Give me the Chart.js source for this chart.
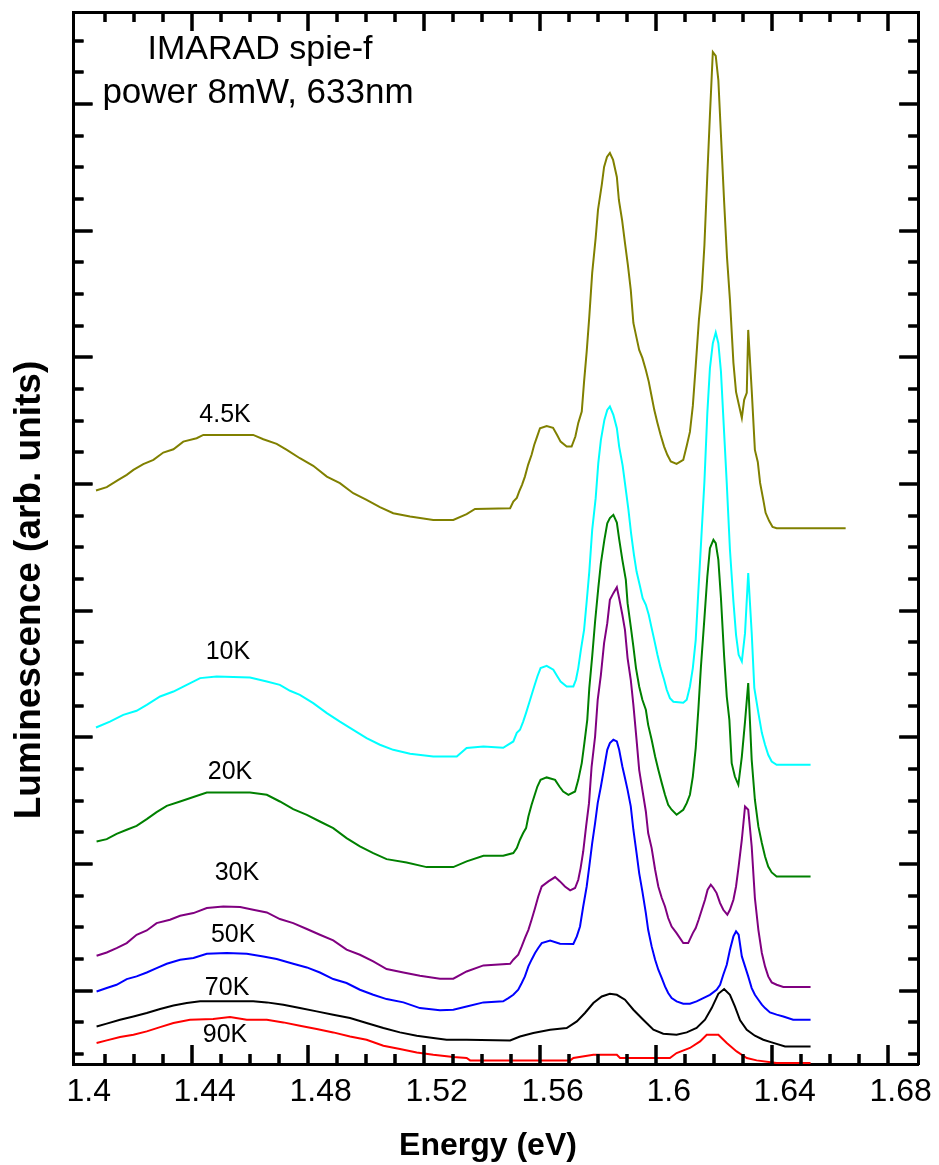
<!DOCTYPE html>
<html>
<head>
<meta charset="utf-8">
<script src="https://cdn.jsdelivr.net/npm/chart.js@4.4.1/dist/chart.umd.min.js"></script>
<style>
  html, body { margin: 0; padding: 0; background: #fff; }
  canvas { display: block; }
</style>
</head>
<body>
<canvas id="plChart" width="939" height="1165"></canvas>
<script>
// photoluminescence spectra, energy in eV, intensity in arb. units

const xTickValues = [1.4, 1.44, 1.48, 1.52, 1.56, 1.6, 1.64, 1.68];
const xTickLabels = ['1.4', '1.44', '1.48', '1.52', '1.56', '1.6', '1.64', '1.68'];

// 4.5K
const e45 = [
  1.4070, 1.4107, 1.4147, 1.4176, 1.4199, 1.4233, 1.4268, 1.4302, 1.4337, 1.4371,
  1.4417, 1.4440, 1.4521, 1.4612, 1.4647, 1.4693, 1.4728, 1.4773, 1.4819, 1.4866,
  1.4911, 1.4957, 1.5003, 1.5049, 1.5095, 1.5153, 1.5233, 1.5302, 1.5348, 1.5377,
  1.5498, 1.5509, 1.5521, 1.5529, 1.5539, 1.5549, 1.5560, 1.5572, 1.5581, 1.5591,
  1.5601, 1.5624, 1.5646, 1.5660, 1.5672, 1.5693, 1.5710, 1.5723, 1.5733, 1.5745,
  1.5753, 1.5762, 1.5771, 1.5781, 1.5793, 1.5801, 1.5814, 1.5822, 1.5832, 1.5842,
  1.5853, 1.5866, 1.5873, 1.5884, 1.5894, 1.5904, 1.5914, 1.5923, 1.5934, 1.5943,
  1.5954, 1.5966, 1.5976, 1.5986, 1.5995, 1.6006, 1.6017, 1.6029, 1.6040, 1.6052,
  1.6072, 1.6095, 1.6107, 1.6118, 1.6128, 1.6138, 1.6149, 1.6159, 1.6168, 1.6178,
  1.6187, 1.6197, 1.6207, 1.6216, 1.6225, 1.6236, 1.6246, 1.6256, 1.6268, 1.6277,
  1.6287, 1.6297, 1.6305, 1.6314, 1.6319, 1.6331, 1.6342, 1.6352, 1.6360, 1.6371,
  1.6379, 1.6391, 1.6403, 1.6417, 1.6655
];
const i45 = [
  3.949, 3.976, 4.033, 4.073, 4.112, 4.157, 4.191, 4.249, 4.275, 4.335,
  4.362, 4.388, 4.388, 4.388, 4.354, 4.317, 4.270, 4.204, 4.144, 4.059,
  4.007, 3.928, 3.875, 3.818, 3.770, 3.744, 3.717, 3.717, 3.762, 3.804,
  3.810, 3.862, 3.891, 3.941, 3.994, 4.059, 4.152, 4.231, 4.309, 4.375,
  4.441, 4.459, 4.444, 4.388, 4.335, 4.296, 4.296, 4.375, 4.483, 4.572,
  4.809, 5.046, 5.322, 5.667, 5.943, 6.164, 6.362, 6.504, 6.582, 6.614,
  6.559, 6.425, 6.243, 6.085, 5.904, 5.730, 5.533, 5.272, 5.154, 5.059,
  4.996, 4.901, 4.809, 4.691, 4.586, 4.483, 4.388, 4.296, 4.231, 4.178,
  4.159, 4.191, 4.302, 4.412, 4.617, 4.933, 5.296, 5.533, 5.888, 6.440,
  6.914, 7.411, 7.380, 7.190, 6.756, 6.227, 5.785, 5.454, 4.957, 4.728,
  4.625, 4.522, 4.665, 4.720, 5.217, 4.743, 4.270, 4.175, 4.009, 3.875,
  3.773, 3.710, 3.662, 3.652, 3.652
];

// 10K
const e10 = [
  1.4070, 1.4118, 1.4164, 1.4210, 1.4245, 1.4291, 1.4337, 1.4383, 1.4429, 1.4486,
  1.4601, 1.4659, 1.4704, 1.4739, 1.4773, 1.4819, 1.4866, 1.4911, 1.4957, 1.5003,
  1.5049, 1.5095, 1.5153, 1.5233, 1.5314, 1.5348, 1.5406, 1.5474, 1.5509, 1.5521,
  1.5532, 1.5543, 1.5553, 1.5567, 1.5581, 1.5592, 1.5603, 1.5624, 1.5647, 1.5661,
  1.5672, 1.5693, 1.5716, 1.5725, 1.5733, 1.5742, 1.5753, 1.5762, 1.5771, 1.5781,
  1.5793, 1.5802, 1.5811, 1.5823, 1.5833, 1.5842, 1.5854, 1.5866, 1.5874, 1.5886,
  1.5897, 1.5906, 1.5915, 1.5925, 1.5934, 1.5946, 1.5955, 1.5966, 1.5976, 1.5986,
  1.5995, 1.6006, 1.6017, 1.6029, 1.6038, 1.6049, 1.6061, 1.6095, 1.6107, 1.6118,
  1.6128, 1.6138, 1.6147, 1.6156, 1.6168, 1.6178, 1.6187, 1.6197, 1.6207, 1.6216,
  1.6225, 1.6236, 1.6245, 1.6256, 1.6268, 1.6277, 1.6286, 1.6297, 1.6308, 1.6319,
  1.6331, 1.6340, 1.6354, 1.6366, 1.6377, 1.6388, 1.6400, 1.6417, 1.6534
];
const i10 = [
  2.078, 2.125, 2.178, 2.210, 2.257, 2.323, 2.362, 2.415, 2.468, 2.481,
  2.473, 2.441, 2.415, 2.368, 2.336, 2.271, 2.192, 2.125, 2.060, 1.994,
  1.942, 1.902, 1.871, 1.849, 1.849, 1.916, 1.928, 1.918, 1.968, 2.036,
  2.060, 2.125, 2.194, 2.297, 2.402, 2.481, 2.547, 2.565, 2.534, 2.481,
  2.441, 2.402, 2.402, 2.455, 2.547, 2.691, 2.849, 3.073, 3.309, 3.638,
  3.889, 4.165, 4.349, 4.507, 4.586, 4.612, 4.546, 4.441, 4.296, 4.146,
  3.954, 3.796, 3.612, 3.441, 3.309, 3.191, 3.099, 3.047, 2.968, 2.863,
  2.770, 2.652, 2.547, 2.455, 2.376, 2.310, 2.281, 2.273, 2.297, 2.402,
  2.547, 2.770, 3.152, 3.520, 4.020, 4.560, 4.915, 5.112, 5.196, 5.112,
  4.888, 4.402, 4.007, 3.481, 3.073, 2.810, 2.652, 2.599, 2.823, 3.297,
  2.826, 2.391, 2.194, 2.036, 1.942, 1.863, 1.810, 1.784, 1.784
];

// 20K
const e20 = [
  1.4072, 1.4107, 1.4141, 1.4176, 1.4210, 1.4245, 1.4279, 1.4314, 1.4360, 1.4406,
  1.4452, 1.4601, 1.4659, 1.4704, 1.4750, 1.4797, 1.4842, 1.4888, 1.4934, 1.4980,
  1.5026, 1.5072, 1.5141, 1.5210, 1.5302, 1.5348, 1.5406, 1.5474, 1.5509, 1.5521,
  1.5532, 1.5543, 1.5553, 1.5561, 1.5572, 1.5581, 1.5592, 1.5603, 1.5624, 1.5653,
  1.5668, 1.5681, 1.5699, 1.5722, 1.5733, 1.5745, 1.5754, 1.5764, 1.5771, 1.5781,
  1.5791, 1.5802, 1.5811, 1.5823, 1.5833, 1.5842, 1.5854, 1.5866, 1.5874, 1.5885,
  1.5897, 1.5903, 1.5914, 1.5923, 1.5932, 1.5943, 1.5954, 1.5966, 1.5974, 1.5986,
  1.5998, 1.6009, 1.6021, 1.6032, 1.6043, 1.6055, 1.6072, 1.6095, 1.6107, 1.6118,
  1.6128, 1.6138, 1.6147, 1.6156, 1.6168, 1.6178, 1.6187, 1.6199, 1.6207, 1.6216,
  1.6225, 1.6236, 1.6245, 1.6254, 1.6262, 1.6273, 1.6285, 1.6297, 1.6308, 1.6319,
  1.6331, 1.6342, 1.6354, 1.6366, 1.6377, 1.6388, 1.6400, 1.6417, 1.6534
];
const i20 = [
  1.178, 1.197, 1.239, 1.271, 1.302, 1.355, 1.410, 1.460, 1.494, 1.529,
  1.565, 1.565, 1.547, 1.494, 1.434, 1.389, 1.336, 1.284, 1.205, 1.139,
  1.087, 1.039, 1.013, 0.976, 0.976, 1.021, 1.066, 1.066, 1.087, 1.126,
  1.192, 1.245, 1.284, 1.376, 1.468, 1.534, 1.612, 1.665, 1.684, 1.665,
  1.612, 1.573, 1.547, 1.573, 1.665, 1.797, 1.955, 2.139, 2.389, 2.639,
  2.915, 3.178, 3.376, 3.560, 3.691, 3.731, 3.757, 3.696, 3.565, 3.402,
  3.244, 3.060, 2.875, 2.717, 2.547, 2.402, 2.297, 2.218, 2.099, 1.981,
  1.849, 1.744, 1.639, 1.547, 1.468, 1.429, 1.389, 1.429, 1.481, 1.547,
  1.691, 1.916, 2.218, 2.560, 2.942, 3.270, 3.494, 3.560, 3.534, 3.402,
  3.099, 2.639, 2.323, 2.139, 1.797, 1.691, 1.626, 1.849, 2.125, 2.429,
  1.823, 1.508, 1.297, 1.166, 1.060, 0.981, 0.934, 0.902, 0.902
];

// 30K
const e30 = [
  1.4072, 1.4107, 1.4141, 1.4176, 1.4210, 1.4245, 1.4279, 1.4325, 1.4360, 1.4406,
  1.4452, 1.4509, 1.4567, 1.4612, 1.4659, 1.4704, 1.4750, 1.4797, 1.4842, 1.4888,
  1.4934, 1.4980, 1.5026, 1.5072, 1.5130, 1.5187, 1.5256, 1.5302, 1.5348, 1.5406,
  1.5498, 1.5509, 1.5526, 1.5538, 1.5549, 1.5561, 1.5572, 1.5584, 1.5595, 1.5607,
  1.5630, 1.5653, 1.5670, 1.5687, 1.5705, 1.5722, 1.5733, 1.5741, 1.5750, 1.5760,
  1.5770, 1.5779, 1.5791, 1.5800, 1.5811, 1.5822, 1.5833, 1.5842, 1.5854, 1.5866,
  1.5874, 1.5885, 1.5894, 1.5903, 1.5914, 1.5923, 1.5934, 1.5943, 1.5954, 1.5966,
  1.5974, 1.5986, 1.5998, 1.6009, 1.6021, 1.6032, 1.6043, 1.6055, 1.6072, 1.6095,
  1.6112, 1.6128, 1.6138, 1.6148, 1.6159, 1.6170, 1.6179, 1.6190, 1.6199, 1.6210,
  1.6222, 1.6233, 1.6247, 1.6256, 1.6268, 1.6277, 1.6286, 1.6297, 1.6308, 1.6319,
  1.6331, 1.6342, 1.6354, 1.6366, 1.6377, 1.6388, 1.6400, 1.6417, 1.6440, 1.6534
];
const i30 = [
  0.276, 0.302, 0.337, 0.376, 0.442, 0.476, 0.534, 0.560, 0.592, 0.613,
  0.653, 0.665, 0.661, 0.639, 0.618, 0.566, 0.534, 0.487, 0.442, 0.397,
  0.324, 0.284, 0.231, 0.171, 0.144, 0.118, 0.095, 0.095, 0.152, 0.200,
  0.213, 0.245, 0.284, 0.350, 0.416, 0.481, 0.560, 0.653, 0.744, 0.823,
  0.863, 0.897, 0.863, 0.823, 0.792, 0.811, 0.876, 0.968, 1.099, 1.297,
  1.481, 1.770, 2.007, 2.297, 2.494, 2.744, 2.902, 3.086, 3.139, 3.186,
  3.099, 2.968, 2.849, 2.626, 2.455, 2.257, 1.981, 1.744, 1.586, 1.415,
  1.245, 1.126, 0.955, 0.823, 0.732, 0.665, 0.574, 0.507, 0.455, 0.376,
  0.376, 0.455, 0.495, 0.560, 0.639, 0.718, 0.797, 0.837, 0.811, 0.771,
  0.692, 0.639, 0.600, 0.639, 0.718, 0.823, 0.981, 1.192, 1.455, 1.429,
  1.139, 0.732, 0.481, 0.298, 0.192, 0.113, 0.066, 0.047, 0.029, 0.029
];

// 50K
const e50 = [
  1.4072, 1.4107, 1.4141, 1.4176, 1.4210, 1.4245, 1.4279, 1.4314, 1.4360, 1.4406,
  1.4452, 1.4521, 1.4590, 1.4647, 1.4693, 1.4750, 1.4797, 1.4842, 1.4888, 1.4934,
  1.4980, 1.5026, 1.5072, 1.5130, 1.5187, 1.5256, 1.5302, 1.5348, 1.5406, 1.5474,
  1.5492, 1.5509, 1.5526, 1.5538, 1.5549, 1.5561, 1.5572, 1.5584, 1.5595, 1.5607,
  1.5636, 1.5670, 1.5716, 1.5728, 1.5739, 1.5750, 1.5762, 1.5771, 1.5781, 1.5791,
  1.5800, 1.5811, 1.5823, 1.5833, 1.5842, 1.5854, 1.5866, 1.5874, 1.5885, 1.5894,
  1.5903, 1.5914, 1.5923, 1.5934, 1.5943, 1.5954, 1.5966, 1.5974, 1.5986, 1.5998,
  1.6009, 1.6021, 1.6032, 1.6043, 1.6055, 1.6072, 1.6095, 1.6118, 1.6141, 1.6164,
  1.6187, 1.6210, 1.6222, 1.6233, 1.6245, 1.6256, 1.6268, 1.6277, 1.6286, 1.6297,
  1.6308, 1.6319, 1.6331, 1.6342, 1.6354, 1.6366, 1.6377, 1.6394, 1.6417, 1.6440,
  1.6474, 1.6534
];
const i50 = [
  -0.006, 0.021, 0.047, 0.092, 0.113, 0.144, 0.179, 0.213, 0.245, 0.258,
  0.292, 0.298, 0.292, 0.271, 0.250, 0.213, 0.184, 0.144, 0.092, 0.061,
  0.008, -0.032, -0.066, -0.092, -0.137, -0.155, -0.150, -0.124, -0.092, -0.084,
  -0.058, -0.032, 0.008, 0.061, 0.113, 0.192, 0.245, 0.298, 0.337, 0.376,
  0.397, 0.371, 0.369, 0.429, 0.507, 0.665, 0.823, 0.981, 1.166, 1.324,
  1.481, 1.612, 1.770, 1.902, 1.955, 1.981, 1.968, 1.902, 1.770, 1.679,
  1.586, 1.455, 1.271, 1.087, 0.929, 0.784, 0.613, 0.481, 0.350, 0.245,
  0.166, 0.100, 0.034, -0.018, -0.058, -0.084, -0.103, -0.103, -0.084, -0.058,
  -0.032, 0.008, 0.047, 0.126, 0.205, 0.324, 0.429, 0.468, 0.442, 0.271,
  0.192, 0.113, 0.021, -0.032, -0.071, -0.110, -0.137, -0.171, -0.189, -0.203,
  -0.229, -0.229
];

// 70K
const e70 = [
  1.4072, 1.4107, 1.4153, 1.4199, 1.4245, 1.4291, 1.4337, 1.4383, 1.4429, 1.4612,
  1.4659, 1.4716, 1.4773, 1.4831, 1.4888, 1.4946, 1.5003, 1.5061, 1.5118, 1.5176,
  1.5233, 1.5279, 1.5348, 1.5498, 1.5532, 1.5578, 1.5636, 1.5693, 1.5728, 1.5756,
  1.5785, 1.5814, 1.5842, 1.5866, 1.5894, 1.5923, 1.5957, 1.5992, 1.6026, 1.6072,
  1.6107, 1.6141, 1.6170, 1.6193, 1.6216, 1.6236, 1.6256, 1.6273, 1.6291, 1.6314,
  1.6342, 1.6371, 1.6400, 1.6446, 1.6534
];
const i70 = [
  -0.282, -0.260, -0.229, -0.203, -0.176, -0.144, -0.116, -0.097, -0.084, -0.084,
  -0.092, -0.110, -0.137, -0.163, -0.189, -0.215, -0.255, -0.294, -0.329, -0.355,
  -0.373, -0.387, -0.387, -0.392, -0.361, -0.334, -0.308, -0.294, -0.242, -0.176,
  -0.097, -0.045, -0.024, -0.032, -0.071, -0.150, -0.229, -0.308, -0.339, -0.347,
  -0.329, -0.294, -0.229, -0.137, -0.024, 0.013, -0.032, -0.124, -0.234, -0.308,
  -0.355, -0.387, -0.408, -0.440, -0.440
];

// 90K
const e90 = [
  1.4072, 1.4107, 1.4153, 1.4199, 1.4245, 1.4291, 1.4337, 1.4394, 1.4474, 1.4532,
  1.4590, 1.4659, 1.4716, 1.4773, 1.4831, 1.4888, 1.4946, 1.5003, 1.5061, 1.5118,
  1.5176, 1.5233, 1.5302, 1.5348, 1.5360, 1.5705, 1.5716, 1.5785, 1.5866, 1.5877,
  1.6049, 1.6072, 1.6118, 1.6153, 1.6176, 1.6216, 1.6245, 1.6279, 1.6314, 1.6348,
  1.6417, 1.6534
];
const i90 = [
  -0.413, -0.392, -0.365, -0.347, -0.321, -0.287, -0.255, -0.229, -0.223, -0.208,
  -0.229, -0.229, -0.250, -0.276, -0.302, -0.329, -0.361, -0.387, -0.434, -0.460,
  -0.487, -0.505, -0.523, -0.531, -0.550, -0.550, -0.531, -0.505, -0.505, -0.531,
  -0.531, -0.492, -0.452, -0.400, -0.347, -0.347, -0.413, -0.479, -0.531, -0.550,
  -0.571, -0.571
];

const seriesNames = ['4.5K', '10K', '20K', '30K', '50K', '70K', '90K'];
const seriesX = [e45, e10, e20, e30, e50, e70, e90];
const seriesY = [i45, i10, i20, i30, i50, i70, i90];
const seriesColors = ['#808000', '#00ffff', '#008000', '#800080', '#0000ff', '#000000', '#ff0000'];

// where each temperature label sits (data units)
const labelE = [1.4515, 1.4525, 1.4532, 1.4556, 1.4543, 1.4522, 1.4515];
const labelI = [4.546, 2.676, 1.728, 0.931, 0.442, 0.024, -0.347];

const xMin = 1.39924, xMax = 1.69055;
const yMin = -0.5785, yMax = 7.727;

const FONT = "'Liberation Sans', Arial, sans-serif";

const datasets = seriesNames.map((name, k) => ({
    label: name,
    data: seriesX[k].map((e, j) => ({ x: e, y: seriesY[k][j] })),
    borderColor: seriesColors[k],
    borderWidth: 2,
    pointRadius: 0,
    fill: false,
    tension: 0
}));

// inward tick marks on all four sides
function drawFrameTicks(chart) {
    const { ctx, chartArea: a, scales } = chart;
    const sx = scales.x, sy = scales.y;
    ctx.save();
    ctx.fillStyle = '#000';
    ctx.globalAlpha = 1;
    ctx.globalCompositeOperation = 'source-over';
    for (let k = 141; k <= 168; k++) {
        const px = Math.round(sx.getPixelForValue(k / 100));
        const len = (k % 4 === 0) ? 19 : 10;
        ctx.fillRect(px - 1.5, a.bottom - len, 3, len);
        ctx.fillRect(px - 1.5, a.top, 3, len);
    }
    for (let k = -2; k <= 30; k++) {
        const py = Math.round(sy.getPixelForValue(k / 4));
        const len = (k % 4 === 0) ? 19 : 10;
        ctx.fillRect(a.left, py - 1.5, len, 3);
        ctx.fillRect(a.right - len, py - 1.5, len, 3);
    }
    ctx.restore();
}

const frameDecor = {
    id: 'frameDecor',
    afterDatasetsDraw(chart) {
        drawFrameTicks(chart);
    },
    afterDraw(chart) {
        const { ctx, scales } = chart;
        const sx = scales.x, sy = scales.y;
        drawFrameTicks(chart);
        ctx.save();
        ctx.fillStyle = '#000';
        ctx.textAlign = 'center';
        ctx.textBaseline = 'middle';
        ctx.font = '25px ' + FONT;
        seriesNames.forEach((name, k) => {
            ctx.fillText(name, sx.getPixelForValue(labelE[k]), sy.getPixelForValue(labelI[k]));
        });

        ctx.textBaseline = 'alphabetic';
        ctx.font = '34px ' + FONT;
        ctx.fillText('IMARAD spie-f', 260, 59);
        ctx.font = '35px ' + FONT;
        ctx.fillText('power 8mW, 633nm', 258, 103);

        ctx.font = 'bold 32px ' + FONT;
        ctx.fillText('Energy (eV)', 488, 1155);

        ctx.translate(40, 590);
        ctx.rotate(-Math.PI / 2);
        ctx.font = 'bold 37px ' + FONT;
        ctx.fillText('Luminescence (arb. units)', 0, 0);
        ctx.restore();
    }
};

const hiddenAxis = (position) => ({
    type: 'linear',
    position: position,
    ticks: { display: false },
    grid: { drawOnChartArea: false, drawTicks: false },
    border: { color: '#000', width: 3 }
});

new Chart(document.getElementById('plChart').getContext('2d'), {
    type: 'line',
    data: { datasets: datasets },
    options: {
        responsive: false,
        animation: false,
        layout: { padding: { left: 73.5, right: 20.7, top: 12, bottom: 44.6 } },
        scales: {
            x: {
                type: 'linear',
                position: 'bottom',
                min: xMin,
                max: xMax,
                afterBuildTicks: axis => { axis.ticks = xTickValues.map(v => ({ value: v })); },
                ticks: {
                    color: '#000',
                    font: { family: FONT, size: 32 },
                    padding: 9,
                    labelOffset: 13,
                    maxRotation: 0,
                    autoSkip: false,
                    callback: (value, i) => xTickLabels[i]
                },
                grid: { drawOnChartArea: false, drawTicks: false },
                border: { color: '#000', width: 3 }
            },
            x2: Object.assign(hiddenAxis('top'), { min: xMin, max: xMax }),
            y: Object.assign(hiddenAxis('left'), { min: yMin, max: yMax }),
            y2: Object.assign(hiddenAxis('right'), { min: yMin, max: yMax })
        },
        plugins: {
            legend: { display: false },
            tooltip: { enabled: false }
        }
    },
    plugins: [frameDecor]
});
</script>
</body>
</html>
